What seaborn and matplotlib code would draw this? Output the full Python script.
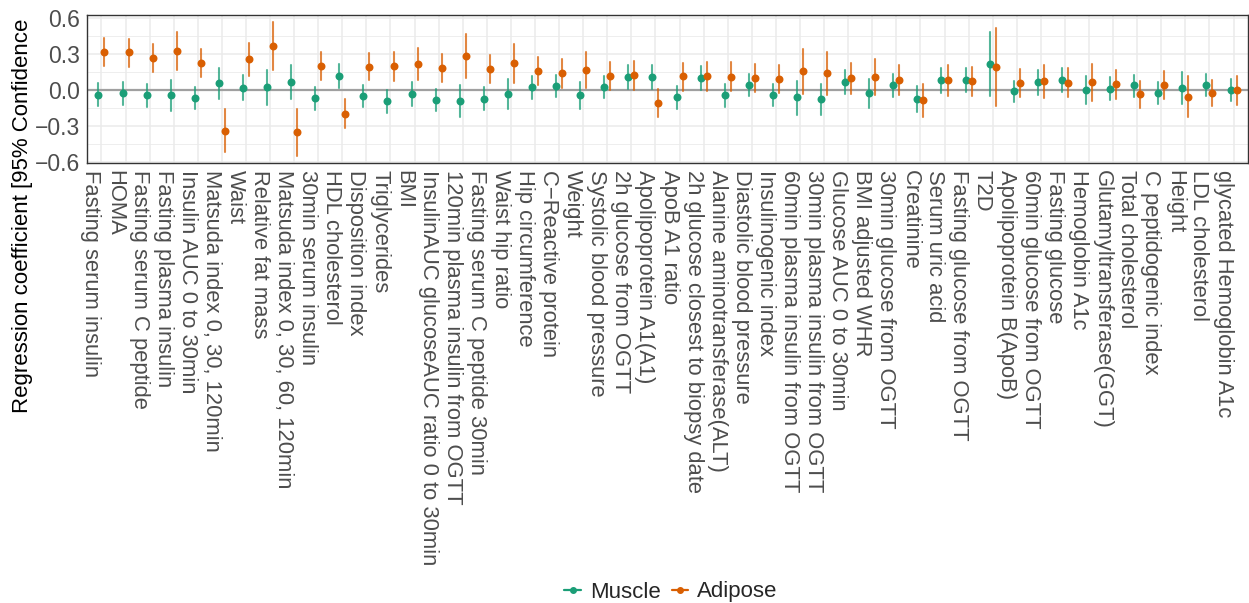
import numpy as np
import pandas as pd
import matplotlib
matplotlib.use("Agg")
import matplotlib.pyplot as plt
import seaborn as sns
from matplotlib.lines import Line2D
from matplotlib.ticker import MultipleLocator

categories = [
    "Fasting serum insulin", "HOMA", "Fasting serum C peptide", "Fasting plasma insulin",
    "Insulin AUC 0 to 30min", "Matsuda index 0, 30, 120min", "Waist", "Relative fat mass",
    "Matsuda index 0, 30, 60, 120min", "30min serum insulin", "HDL cholesterol", "Disposition index",
    "Triglycerides", "BMI", "InsulinAUC glucoseAUC ratio 0 to 30min", "120min plasma insulin from OGTT",
    "Fasting serum C peptide 30min", "Waist hip ratio", "Hip circumference", "C\u2212Reactive protein",
    "Weight", "Systolic blood pressure", "2h glucose from OGTT", "Apolipoprotein A1(A1)",
    "ApoB A1 ratio", "2h glucose closest to biopsy date", "Alanine aminotransferase(ALT)", "Diastolic blood pressure",
    "Insulinogenic index", "60min plasma insulin from OGTT", "30min plasma insulin from OGTT", "Glucose AUC 0 to 30min",
    "BMI adjusted WHR", "30min glucose from OGTT", "Creatinine", "Serum uric acid",
    "Fasting glucose from OGTT", "T2D", "Apolipoprotein B(ApoB)", "60min glucose from OGTT",
    "Fasting glucose", "Hemoglobin A1c", "Glutamyltransferase(GGT)", "Total cholesterol",
    "C peptidogenic index", "Height", "LDL cholesterol", "glycated Hemoglobin A1c",
]

muscle_est = [-0.039, -0.025, -0.044, -0.044, -0.069, 0.056, 0.019, 0.022, 0.067, -0.069, 0.117, -0.050,
              -0.092, -0.036, -0.081, -0.092, -0.072, -0.031, 0.022, 0.033, -0.044, 0.025, 0.111, 0.111,
              -0.058, 0.100, -0.044, 0.044, -0.039, -0.061, -0.075, 0.069, -0.028, 0.042, -0.075, 0.081,
              0.086, 0.219, -0.008, 0.069, 0.086, 0.000, 0.011, 0.039, -0.022, 0.019, 0.044, 0.000]
muscle_hi = [0.056, 0.067, 0.050, 0.086, 0.022, 0.183, 0.122, 0.169, 0.208, 0.022, 0.217, 0.039,
             0.000, 0.064, 0.011, 0.042, 0.022, 0.092, 0.114, 0.125, 0.067, 0.117, 0.208, 0.206,
             0.033, 0.200, 0.050, 0.136, 0.053, 0.075, 0.050, 0.164, 0.092, 0.136, 0.031, 0.181,
             0.183, 0.483, 0.078, 0.169, 0.183, 0.117, 0.106, 0.125, 0.069, 0.150, 0.133, 0.092]
muscle_lo = [-0.133, -0.122, -0.139, -0.172, -0.161, -0.078, -0.086, -0.128, -0.078, -0.164, 0.017, -0.144,
             -0.189, -0.133, -0.178, -0.228, -0.169, -0.156, -0.072, -0.061, -0.161, -0.064, 0.008, 0.011,
             -0.156, 0.000, -0.142, -0.047, -0.136, -0.206, -0.206, -0.031, -0.147, -0.056, -0.183, -0.022,
             -0.014, -0.047, -0.103, -0.039, -0.014, -0.119, -0.086, -0.056, -0.119, -0.114, -0.047, -0.094]

adipose_est = [0.314, 0.314, 0.267, 0.328, 0.225, -0.339, 0.256, 0.369, -0.353, 0.203, -0.197, 0.194,
               0.200, 0.217, 0.183, 0.283, 0.178, 0.222, 0.161, 0.142, 0.169, 0.119, 0.122, -0.108,
               0.114, 0.117, 0.111, 0.100, 0.094, 0.156, 0.139, 0.097, 0.106, 0.086, -0.086, 0.081,
               0.075, 0.192, 0.061, 0.072, 0.061, 0.064, 0.047, -0.036, 0.044, -0.056, -0.022, -0.003]
adipose_hi = [0.431, 0.425, 0.383, 0.483, 0.339, -0.161, 0.389, 0.567, -0.158, 0.314, -0.078, 0.306,
              0.317, 0.347, 0.297, 0.467, 0.294, 0.383, 0.275, 0.256, 0.319, 0.233, 0.242, 0.006,
              0.228, 0.236, 0.231, 0.217, 0.206, 0.342, 0.317, 0.225, 0.256, 0.211, 0.047, 0.211,
              0.194, 0.517, 0.172, 0.208, 0.183, 0.214, 0.167, 0.072, 0.158, 0.114, 0.083, 0.114]
adipose_lo = [0.197, 0.194, 0.147, 0.164, 0.111, -0.519, 0.117, 0.167, -0.550, 0.086, -0.317, 0.081,
              0.078, 0.083, 0.067, 0.100, 0.058, 0.061, 0.039, 0.019, 0.017, 0.000, -0.003, -0.225,
              -0.006, -0.008, -0.011, -0.017, -0.022, -0.033, -0.042, -0.031, -0.044, -0.039, -0.222, -0.050,
              -0.050, -0.133, -0.056, -0.067, -0.061, -0.089, -0.075, -0.147, -0.075, -0.228, -0.131, -0.125]

tissues = ["Muscle", "Adipose"]
colors = ["#1B9E77", "#D95F02"]
y_label = "Regression coefficient [95% Confidence"

# long table: lower bound, estimate, upper bound per trait/tissue
rows = []
for tissue, est, lo, hi in [("Muscle", muscle_est, muscle_lo, muscle_hi),
                            ("Adipose", adipose_est, adipose_lo, adipose_hi)]:
    for c, e, l, h in zip(categories, est, lo, hi):
        for v in (l, e, h):
            rows.append({"trait": c, "tissue": tissue, "coef": v})
df = pd.DataFrame(rows)

sns.set_style("white")
plt.rcParams['font.family'] = ['Liberation Sans', 'DejaVu Sans']

W, H = 1249, 603
fig = plt.figure(figsize=(W / 100, H / 100), dpi=100)
ax = fig.add_axes([87 / W, 1 - 163 / H, (1248 - 87) / W, 148 / H])

ax.axhline(0, color="#A0A0A0", lw=1.6, zorder=1.5)

sns.pointplot(data=df, x="trait", y="coef", hue="tissue", order=categories,
              hue_order=tissues, palette=colors, estimator="median",
              errorbar=lambda v: (np.min(v), np.max(v)), dodge=0.25,
              linestyle="none", marker="o", markersize=3.7,
              err_kws={"linewidth": 1.5, "alpha": 0.75},
              legend=False, ax=ax)

ax.set_xlim(-0.6, len(categories) - 0.4)
ax.set_ylim(-0.608, 0.625)
ax.set_yticks([-0.6, -0.3, 0.0, 0.3, 0.6])
ax.yaxis.set_minor_locator(MultipleLocator(0.15))
ax.set_axisbelow(True)
ax.grid(True, which="major", color="#EBEBEB", lw=1.1)
ax.grid(True, which="minor", axis="y", color="#EBEBEB", lw=0.6)
ax.set_xlabel("")
ax.set_ylabel("")

for s in ax.spines.values():
    s.set_color("#333333")
    s.set_linewidth(1.0)
    s.set_visible(True)

ax.tick_params(which="major", direction="out", length=3, width=1, color="#333333",
               labelcolor="#4D4D4D", pad=2)
ax.tick_params(which="minor", length=0)
ax.tick_params(axis="y", labelsize=16.5)
ax.tick_params(axis="x", labelsize=15.8)
plt.setp(ax.get_xticklabels(), rotation=-90, ha="right", va="top")

fig.text(23 / W, 1 - 413 / H, y_label, rotation=90, ha="center", va="bottom",
         fontsize=16, color="black")

handles = [Line2D([], [], color=c, marker="o", markersize=4, lw=1.6) for c in colors]
fig.legend(handles, tissues, loc="center", bbox_to_anchor=(671 / W, 1 - 592 / H),
           ncol=2, frameon=False, fontsize=16, handlelength=0.75, handletextpad=0.4,
           columnspacing=0.5, borderpad=0)

fig.savefig("out.png", dpi=100)
